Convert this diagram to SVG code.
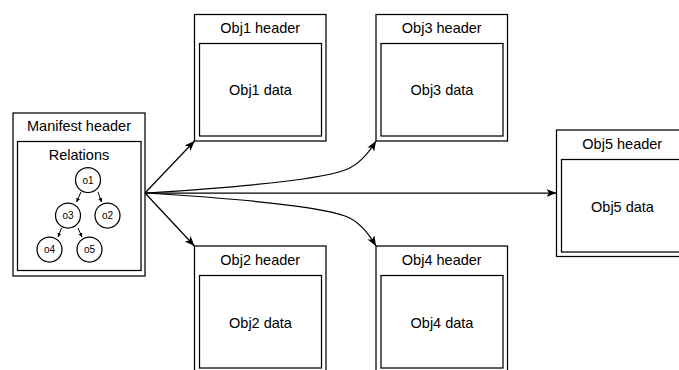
<svg xmlns="http://www.w3.org/2000/svg" width="679" height="370" viewBox="0 0 679 370">
<defs>
<marker id="arr" markerUnits="userSpaceOnUse" markerWidth="12" markerHeight="10" refX="10" refY="4" orient="auto"><path d="M0,0 L10,4 L0,8 L2.5,4 z" fill="#000"/></marker>
<marker id="sarr" markerUnits="userSpaceOnUse" markerWidth="6" markerHeight="6" refX="4" refY="2" orient="auto"><path d="M0,0 L4,2 L0,4 z" fill="#000"/></marker>
<style>
.box{fill:#fff;stroke:#000;stroke-width:1.25}
.t{font-family:"Liberation Sans",Arial,Helvetica,sans-serif;font-size:14.5px;fill:#000;text-anchor:middle;dominant-baseline:central}
.st{font-family:"Liberation Sans",Arial,Helvetica,sans-serif;font-size:10px;fill:#000;text-anchor:middle;dominant-baseline:central}
.e{fill:none;stroke:#000;stroke-width:1.25;marker-end:url(#arr)}
.se{fill:none;stroke:#000;stroke-width:1;marker-end:url(#sarr)}
</style>
</defs>
<g id="manifest">
<rect class="box" x="13" y="113" width="132" height="163"/>
<text class="t" x="79" y="126">Manifest header</text>
<rect class="box" x="17.5" y="141.5" width="123.5" height="129"/>
<text class="t" x="79" y="155">Relations</text>
</g>
<g id="o1"><circle class="box" cx="88" cy="180" r="12.5"/><text class="st" x="88" y="180">o1</text></g>
<g id="o2"><circle class="box" cx="107.5" cy="215.5" r="12.5"/><text class="st" x="107.5" y="215.5">o2</text></g>
<g id="o3"><circle class="box" cx="68" cy="215.5" r="12.5"/><text class="st" x="68" y="215.5">o3</text></g>
<g id="o4"><circle class="box" cx="49.5" cy="249.5" r="12.5"/><text class="st" x="49.5" y="249.5">o4</text></g>
<g id="o5"><circle class="box" cx="89.5" cy="249.5" r="12.5"/><text class="st" x="89.5" y="249.5">o5</text></g>
<g id="obj1">
<rect class="box" x="194.5" y="14.5" width="131.5" height="126.5"/>
<text class="t" x="260.25" y="28">Obj1 header</text>
<rect class="box" x="199.5" y="43.5" width="122" height="92.5"/>
<text class="t" x="260.5" y="90">Obj1 data</text>
</g>
<g id="obj3">
<rect class="box" x="376" y="14.5" width="131.5" height="126.5"/>
<text class="t" x="441.75" y="28">Obj3 header</text>
<rect class="box" x="381" y="43.5" width="122" height="92.5"/>
<text class="t" x="442" y="90">Obj3 data</text>
</g>
<g id="obj2">
<rect class="box" x="194.5" y="246" width="131.5" height="126.5"/>
<text class="t" x="260.25" y="260">Obj2 header</text>
<rect class="box" x="199.5" y="275.5" width="122" height="92.5"/>
<text class="t" x="260.5" y="322.5">Obj2 data</text>
</g>
<g id="obj4">
<rect class="box" x="376" y="246" width="131.5" height="126.5"/>
<text class="t" x="441.75" y="260">Obj4 header</text>
<rect class="box" x="381" y="275.5" width="122" height="92.5"/>
<text class="t" x="442" y="322.5">Obj4 data</text>
</g>
<g id="obj5">
<rect class="box" x="556.5" y="130" width="131.5" height="126.5"/>
<text class="t" x="622.25" y="143.5">Obj5 header</text>
<rect class="box" x="561.5" y="159.5" width="122" height="92.5"/>
<text class="t" x="622.5" y="207">Obj5 data</text>
</g>
<g id="connectors">
<path class="e" d="M145,193 L194.5,141"/>
<path class="e" d="M145,193 L194.5,246"/>
<path class="e" d="M145,193 Q310,183 345,170 Q362,164 376,141"/>
<path class="e" d="M145,193 Q310,203 345,216 Q362,222 376,246"/>
<path class="e" d="M145,193 L556.5,193"/>
<path class="se" d="M81,192 L76.5,202"/>
<path class="se" d="M98,192 L101.5,202"/>
<path class="se" d="M61.5,228 L58,237"/>
<path class="se" d="M78,228 L82,237"/>
</g>
</svg>
